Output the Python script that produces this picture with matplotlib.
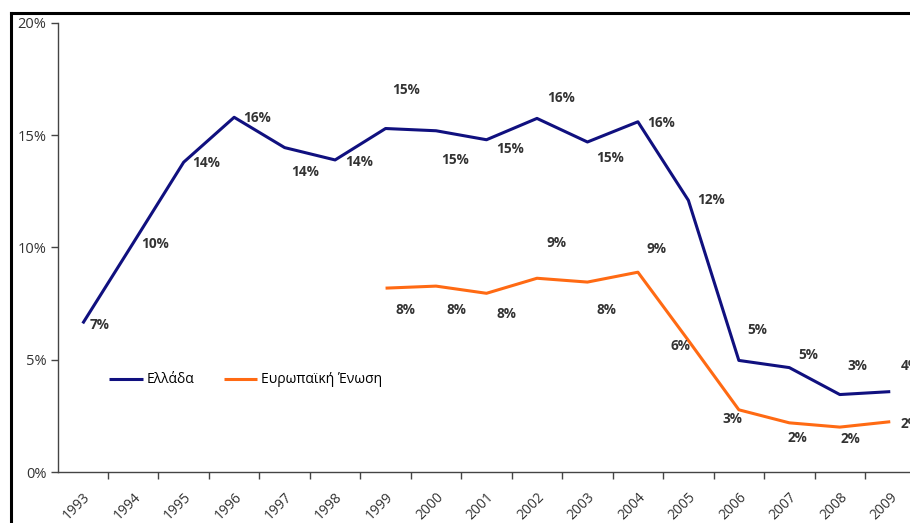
import matplotlib
matplotlib.use("Agg")
from matplotlib import pyplot as plt
from matplotlib.lines import Line2D
from matplotlib.ticker import PercentFormatter

years = [str(y) for y in range(1993, 2010)]
greece = [6.62, 10.2, 13.8, 15.8, 14.45, 13.9, 15.3, 15.2, 14.8, 15.75,
          14.7, 15.6, 12.1, 4.97, 4.65, 3.45, 3.58]
eu_years = years[6:]
eu = [8.19, 8.28, 7.96, 8.63, 8.46, 8.9, 5.86, 2.77, 2.19, 2.0, 2.24]

# label offsets in pixels (right, down)
greece_off = [(17, 2), (22, 1), (22, 1), (23, 1), (20, 24), (24, 2), (20, -39),
              (19, 29), (24, 9), (24, -20), (23, 16), (23, 1), (23, 0),
              (18, -30), (19, -13), (18, -29), (20, -26)]
eu_off = [(20, 22), (20, 24), (20, 21), (20, -35), (19, 28), (19, -23),
          (-8, 6), (-6, 9), (8, 15), (11, 12), (20, 2)]

navy = "#10107F"
orange = "#FF6A13"
plt.rcParams["font.family"] = ["Open Sans", "DejaVu Sans"]

fig = plt.figure(figsize=(9.1, 5.23), dpi=100)
ax = fig.add_axes([57.5 / 910, 1 - 472 / 523, 858 / 910, 449 / 523])

x_gr = list(range(len(years)))
x_eu = [years.index(y) for y in eu_years]
ax.plot(x_gr, greece, color=navy, lw=2.2, label="Ελλάδα", solid_capstyle="butt")
ax.plot(x_eu, eu, color=orange, lw=2.2, label="Ευρωπαϊκή Ένωση", solid_capstyle="butt")

for xi, v, (dx, dy) in zip(x_gr, greece, greece_off):
    ax.annotate(f"{round(v)}%", (xi, v), xytext=(dx, -dy), textcoords="offset pixels",
                ha="center", va="center", fontsize=9.8, fontweight="bold", color="#333333")
for xi, v, (dx, dy) in zip(x_eu, eu, eu_off):
    ax.annotate(f"{round(v)}%", (xi, v), xytext=(dx, -dy), textcoords="offset pixels",
                ha="center", va="center", fontsize=9.8, fontweight="bold", color="#333333")

ax.set_xlim(-0.5, len(years) - 0.5)
ax.set_ylim(0, 20)
ax.set_yticks([0, 5, 10, 15, 20])
ax.yaxis.set_major_formatter(PercentFormatter(decimals=0))
ax.set_xticks(x_gr)
ax.set_xticklabels(years, rotation=45, ha="right", rotation_mode="anchor", fontsize=10)
ax.set_xticks([i + 0.5 for i in range(len(years) - 1)], minor=True)
ax.tick_params(axis="x", which="major", length=0, pad=13, labelcolor="#333333")
ax.tick_params(axis="x", which="minor", length=5, width=1, direction="out", color="#444444")
ax.tick_params(axis="y", length=5, width=1, direction="out", labelsize=10.5,
               color="#444444", labelcolor="#333333", pad=3)
for s in ["top", "right"]:
    ax.spines[s].set_visible(False)
for s in ["left", "bottom"]:
    ax.spines[s].set_color("#444444")
    ax.spines[s].set_linewidth(1)

ax.legend(loc="center left", bbox_to_anchor=(0.054, 0.205), ncol=2, frameon=False,
          fontsize=10, handlelength=2.4, columnspacing=2.1, handletextpad=0.3,
          borderaxespad=0)

# outer frame (cut off at right and bottom)
fig.add_artist(Line2D([11 / 910, 1.01], [1 - 13 / 523] * 2, color="black", lw=2.2,
                      transform=fig.transFigure))
fig.add_artist(Line2D([11 / 910] * 2, [1 - 13 / 523, -0.01], color="black", lw=2.2,
                      transform=fig.transFigure))

fig.savefig("out.png", dpi=100)
